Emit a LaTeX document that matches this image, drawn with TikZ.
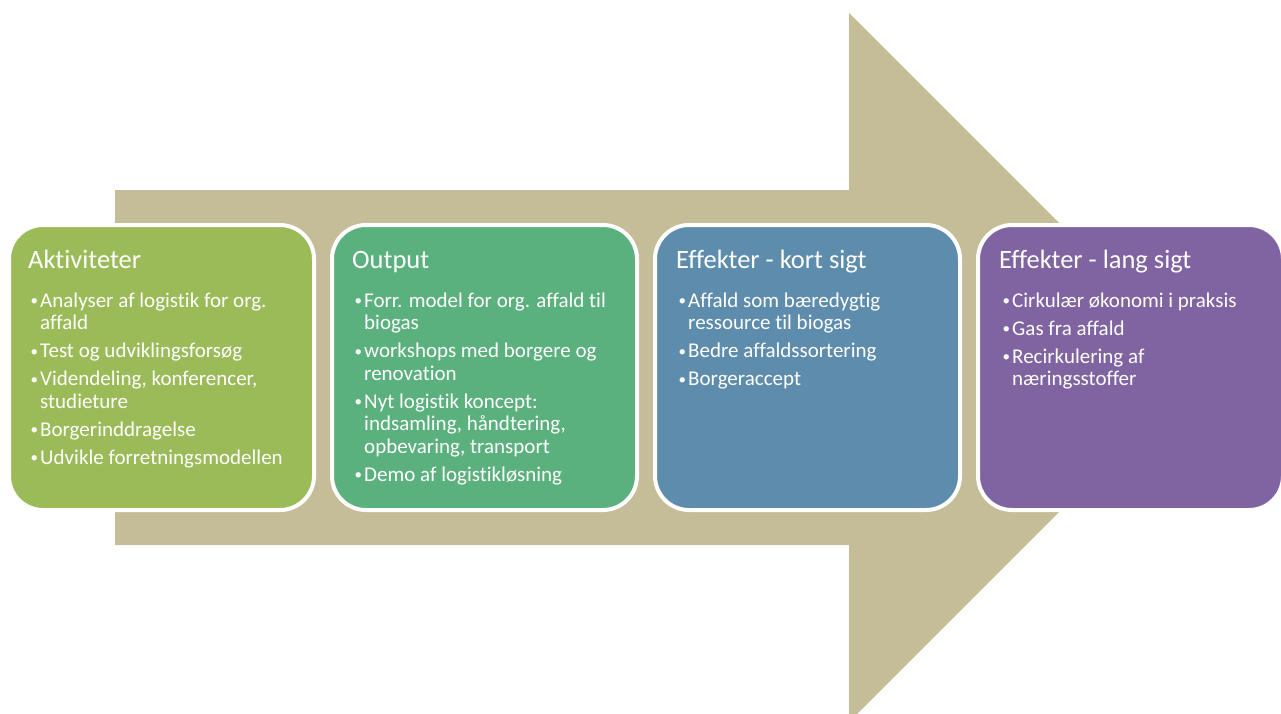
\documentclass[tikz,border=0pt]{standalone}
\usepackage{fontspec}
\setmainfont{Carlito}[Ligatures=NoCommon]
\definecolor{arrowtan}{HTML}{C4BD97}
\definecolor{boxA}{HTML}{9BBB59}
\definecolor{boxB}{HTML}{5BB17D}
\definecolor{boxC}{HTML}{5E8CAC}
\definecolor{boxD}{HTML}{8064A2}
\newcommand{\bl}{\strut\makebox[10pt][l]{\hspace{0.5pt}\raisebox{1.6pt}{\fontsize{15}{15}\selectfont •}}}
\newcommand{\ind}{\hspace*{10pt}}
\tikzset{
  x=1pt, y=-1pt,
  phasebox/.style={rectangle, rounded corners=34pt, draw=white, line width=4pt,
    minimum width=305pt, minimum height=285pt, inner sep=0pt},
  boxtitle/.style={anchor=base west, text=white, inner sep=0pt, font=\fontsize{26.5}{30}\selectfont},
  boxlist/.style={anchor=north west, text=white, inner sep=0pt, align=left, font=\fontsize{21}{22.5}\selectfont},
}
\begin{document}
\begin{tikzpicture}
\useasboundingbox (0,0) rectangle (1281,713);
\clip (0,0) rectangle (1281,713);
% big arrow
\fill[arrowtan] (115,190) -- (849,190) -- (849,13) -- (1203.5,367.5) -- (849,722) -- (849,545) -- (115,545) -- cycle;
% boxes
\node[phasebox, fill=boxA] (b1) at (161.5,367.5) {};
\node[phasebox, fill=boxB] (b2) at (484.5,367.5) {};
\node[phasebox, fill=boxC] (b3) at (807.5,367.5) {};
\node[phasebox, fill=boxD] (b4) at (1130.5,367.5) {};
% titles
\node[boxtitle] (t1) at (28,268) {Aktiviteter};
\node[boxtitle] (t2) at (352,268) {Output};
\node[boxtitle] (t3) at (676,268) {Effekter - kort sigt};
\node[boxtitle] (t4) at (999,268) {Effekter - lang sigt};
% lists (top = first baseline 307 minus strut height 15.75)
\node[boxlist] (l1) at (30,291.25) {\bl Analyser af logistik for org.\\ \ind affald\\[5.5pt]
\bl Test og udviklingsforsøg\\[5.5pt]
\bl Videndeling, konferencer,\\ \ind studieture\\[5.5pt]
\bl Borgerinddragelse\\[5.5pt]
\bl Udvikle forretningsmodellen};
\node[boxlist] (l2) at (354,291.25) {\bl Forr. model for org. affald til\\ \ind biogas\\[5.5pt]
\bl workshops med borgere og\\ \ind renovation\\[5.5pt]
\bl Nyt logistik koncept:\\ \ind indsamling, håndtering,\\ \ind opbevaring, transport\\[5.5pt]
\bl Demo af logistikløsning};
\node[boxlist] (l3) at (678,291.25) {\bl Affald som bæredygtig\\ \ind ressource til biogas\\[5.5pt]
\bl Bedre affaldssortering\\[5.5pt]
\bl Borgeraccept};
\node[boxlist] (l4) at (1002,291.25) {\bl Cirkulær økonomi i praksis\\[5.5pt]
\bl Gas fra affald\\[5.5pt]
\bl Recirkulering af\\ \ind næringsstoffer};
\end{tikzpicture}
\end{document}
